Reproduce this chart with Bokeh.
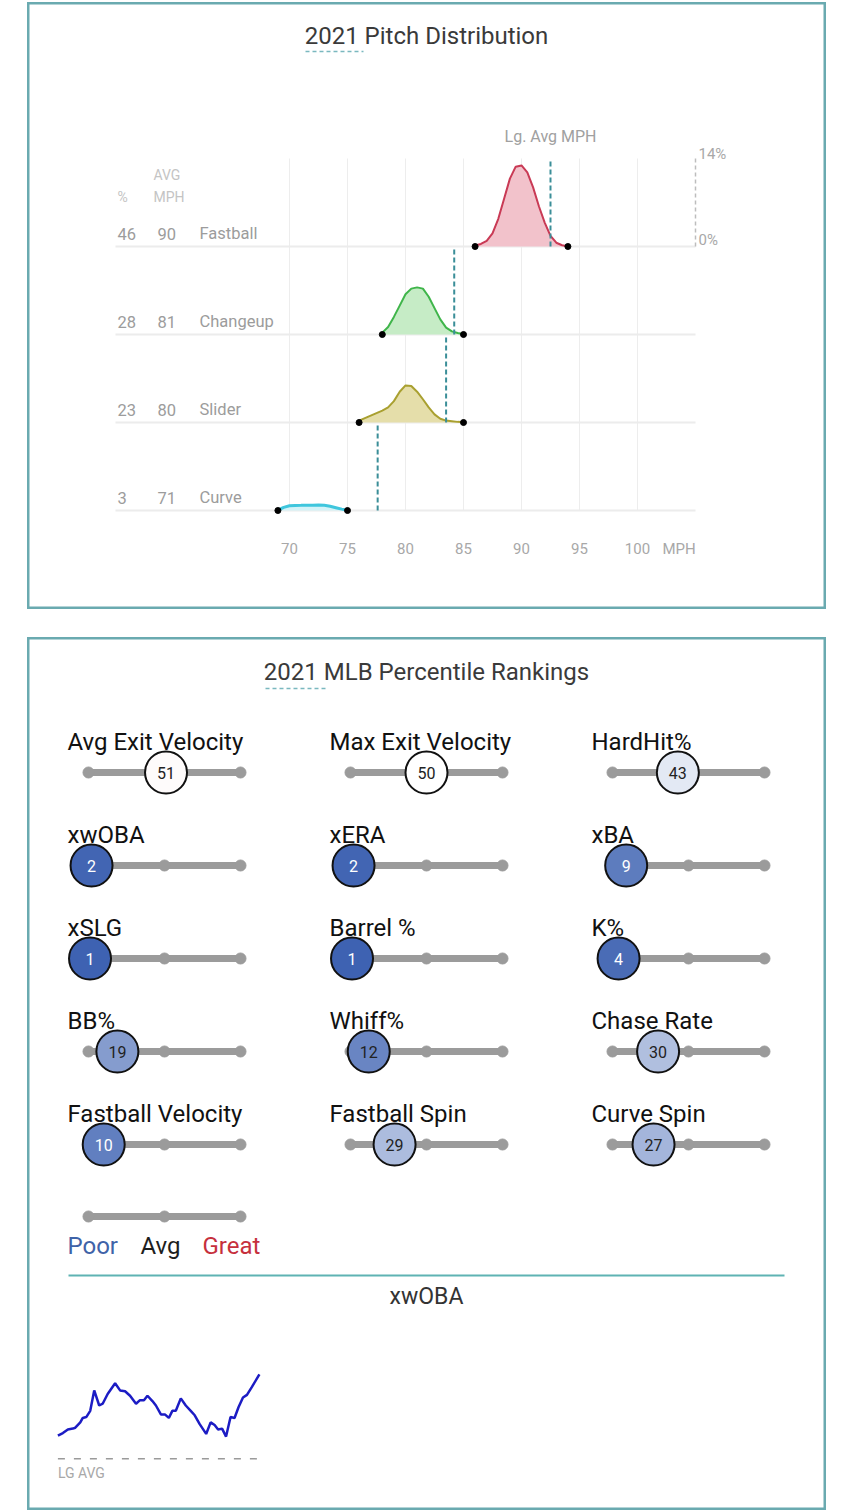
from bokeh.plotting import figure
from bokeh.layouts import column, row
from bokeh.models import Range1d, Spacer
from bokeh.core.properties import value
from bokeh.embed import file_html
from bokeh.resources import INLINE

FONT = value("Roboto")

# ---------------- data: pitch distribution ----------------
pitch_names = ["Fastball", "Changeup", "Slider", "Curve"]
pitch_pct = [46, 28, 23, 3]
pitch_avg_mph = [90, 81, 80, 71]
lg_avg_mph = [92.5, 84.2, 83.5, 77.6]
mph_ticks = [70, 75, 80, 85, 90, 95, 100]
mph_tick_labels = ["70", "75", "80", "85", "90", "95", "100"]

fastball_mph = [86.0, 86.5, 87.0, 87.5, 88.0, 88.5, 89.0, 89.5, 90.0, 90.5, 91.0, 91.5, 92.0, 92.5, 93.0, 93.5, 94.0]
fastball_density = [0.15, 0.4, 0.9, 2.1, 4.4, 7.6, 10.8, 12.7, 12.9, 11.8, 9.4, 6.4, 3.8, 1.7, 0.6, 0.2, 0.05]
changeup_mph = [78.0, 78.5, 79.0, 79.5, 80.0, 80.5, 81.0, 81.5, 82.0, 82.5, 83.0, 83.5, 84.0, 84.5, 85.0]
changeup_density = [0.3, 1.2, 2.8, 4.6, 6.4, 7.3, 7.5, 7.3, 6.0, 4.2, 2.4, 1.1, 0.5, 0.25, 0.05]
slider_mph = [76.0, 76.5, 77.0, 77.5, 78.0, 78.5, 79.0, 79.5, 80.0, 80.5, 81.0, 81.5, 82.0, 82.5, 83.0, 83.5, 84.0, 84.5, 85.0]
slider_density = [0.3, 0.7, 1.1, 1.5, 1.9, 2.4, 3.4, 4.9, 5.9, 5.8, 4.9, 3.7, 2.4, 1.3, 0.6, 0.3, 0.2, 0.1, 0.05]
curve_mph = [69.0, 69.5, 70.0, 70.5, 71.0, 71.5, 72.0, 72.5, 73.0, 73.5, 74.0, 74.5, 75.0]
curve_density = [0.05, 0.5, 0.75, 0.8, 0.82, 0.85, 0.85, 0.86, 0.82, 0.68, 0.45, 0.22, 0.05]

density_mph = [fastball_mph, changeup_mph, slider_mph, curve_mph]
density_pct = [fastball_density, changeup_density, slider_density, curve_density]
line_colors = ["#c93a55", "#3fb54a", "#a9a030", "#3fc6dd"]
fill_colors = ["#f2c2cb", "#c6ecc6", "#e5deaa", "#d3f3f8"]
SCALE_MAX = 14  # percent shown by the right scale bar

# ---------------- data: percentile rankings ----------------
metric_names = ["Avg Exit Velocity", "Max Exit Velocity", "HardHit%",
                "xwOBA", "xERA", "xBA",
                "xSLG", "Barrel %", "K%",
                "BB%", "Whiff%", "Chase Rate",
                "Fastball Velocity", "Fastball Spin", "Curve Spin"]
metric_pct = [51, 50, 43, 2, 2, 9, 1, 1, 4, 19, 12, 30, 10, 29, 27]
legend_labels = ["Poor", "Avg", "Great"]
legend_pct = [0, 50, 100]
legend_colors = ["#3f63a8", "#1e1e1e", "#c6303d"]

# ---------------- data: xwOBA rolling sparkline ----------------
spark_pa = [0, 10, 20, 30, 35, 45, 50, 57, 65, 73, 83, 90, 100, 115, 125, 135, 145, 157, 165, 173,
            180, 190, 197, 207, 215, 223, 230, 237, 247, 257, 267, 275, 285, 298, 307, 315, 322, 330,
            338, 347, 355, 363, 372, 380, 390, 405]
spark_xwoba = [0.341, 0.344, 0.348, 0.349, 0.350, 0.356, 0.361, 0.362, 0.369, 0.392, 0.375, 0.377,
               0.388, 0.400, 0.392, 0.391, 0.386, 0.377, 0.381, 0.381, 0.386, 0.380, 0.375, 0.365,
               0.365, 0.361, 0.369, 0.369, 0.383, 0.375, 0.369, 0.364, 0.354, 0.343, 0.356, 0.353,
               0.348, 0.349, 0.340, 0.362, 0.361, 0.373, 0.384, 0.387, 0.396, 0.410]
lg_avg_xwoba = 0.315

TEAL = "#6aaab0"

# page placement (the page renders with no body margin)
LEFT_PAD = 27
P1_TOP = 2

# =============== Panel 1: pitch distribution ===============
P1_W, P1_H = 799, 607
P1_LEFT = LEFT_PAD
PX_PER_MPH = 11.6
PX_PER_UNIT = 88 / SCALE_MAX


def mx(px):
    return 70 + (px - 289) / PX_PER_MPH


def my(py):
    return (510 - py) / PX_PER_UNIT


def clean(p):
    p.outline_line_color = TEAL
    p.outline_line_width = 4
    p.background_fill_color = "white"
    p.border_fill_color = "white"
    p.grid.visible = False


p1 = figure(width=P1_W, height=P1_H, output_backend="svg", toolbar_location=None,
            x_axis_location=None, y_axis_location=None,
            x_range=Range1d(mx(P1_LEFT), mx(P1_LEFT + P1_W)),
            y_range=Range1d(my(P1_TOP + P1_H), my(P1_TOP)),
            min_border=0)
clean(p1)

n = len(pitch_names)
baselines = [(n - 1 - i) * SCALE_MAX for i in range(n)]

# vertical grid lines
p1.segment(x0=mph_ticks, x1=mph_ticks, y0=[0] * len(mph_ticks), y1=[SCALE_MAX * n] * len(mph_ticks),
           line_color="#ededed", line_width=1)
# row baselines
p1.segment(x0=[55] * n, x1=[105] * n, y0=baselines, y1=baselines, line_color="#ececec", line_width=2)

for i in range(n):
    b = baselines[i]
    top = [b + d for d in density_pct[i]]
    p1.varea(x=density_mph[i], y1=[b] * len(top), y2=top, fill_color=fill_colors[i], fill_alpha=1.0)
    p1.line(x=density_mph[i], y=top, line_color=line_colors[i], line_width=3 if i == 3 else 2)
    p1.scatter(x=[density_mph[i][0], density_mph[i][-1]], y=[b, b], size=6, marker="circle",
               fill_color="black", line_color="black")

# league average dashed lines
p1.segment(x0=lg_avg_mph, x1=lg_avg_mph, y0=baselines, y1=[b + SCALE_MAX for b in baselines],
           line_color="#3a8e98", line_width=2, line_dash="5 3")

# right scale
p1.segment(x0=[105], x1=[105], y0=[baselines[0]], y1=[baselines[0] + SCALE_MAX],
           line_color="#bdbdbd", line_width=1.5, line_dash="4 3")
p1.text(x=[mx(698), mx(698)], y=[my(153), my(239)], text=["%d%%" % SCALE_MAX, "0%"],
        text_font=FONT, text_font_size="15px", text_color="#a8a8a8",
        text_align="left", text_baseline="middle")

# row labels
lab_dy = 13 / PX_PER_UNIT
ly = [b + lab_dy for b in baselines]
p1.text(x=[mx(117)] * n, y=ly, text=[str(v) for v in pitch_pct], text_font=FONT,
        text_font_size="16.5px", text_color="#9c9c9c", text_align="left", text_baseline="middle")
p1.text(x=[mx(157)] * n, y=ly, text=[str(v) for v in pitch_avg_mph], text_font=FONT,
        text_font_size="16.5px", text_color="#9c9c9c", text_align="left", text_baseline="middle")
p1.text(x=[mx(199)] * n, y=ly, text=pitch_names, text_font=FONT,
        text_font_size="16.5px", text_color="#9c9c9c", text_align="left", text_baseline="middle")
# headers
p1.text(x=[mx(117), mx(153), mx(153)], y=[my(196), my(174), my(196)], text=["%", "AVG", "MPH"],
        text_font=FONT, text_font_size="14px", text_color="#c4c4c4",
        text_align="left", text_baseline="middle")

# tick labels
p1.text(x=mph_ticks, y=[my(548)] * len(mph_ticks), text=mph_tick_labels, text_font=FONT,
        text_font_size="15px", text_color="#a8a8a8", text_align="center", text_baseline="middle")
p1.text(x=[mx(662)], y=[my(548)], text=["MPH"], text_font=FONT,
        text_font_size="15px", text_color="#a8a8a8", text_align="left", text_baseline="middle")

# Lg avg label
p1.text(x=[lg_avg_mph[0]], y=[my(136)], text=["Lg. Avg MPH"], text_font=FONT,
        text_font_size="16px", text_color="#a0a0a0", text_align="center", text_baseline="middle")

# title
p1.text(x=[mx(426)], y=[my(35)], text=["2021 Pitch Distribution"], text_font=FONT,
        text_font_size="24px", text_color="#3a3a3a", text_align="center", text_baseline="middle")
p1.segment(x0=[mx(305)], x1=[mx(363)], y0=[my(51)], y1=[my(51)], line_color="#7ab8bf",
           line_width=1.5, line_dash="4 3")

# =============== Panel 2: percentile rankings ===============
P2_TOP = 637
P2_W, P2_H = 799, 1510 - P2_TOP
P2_LEFT = LEFT_PAD


def cx(px):
    return px - P2_LEFT


def cy(py):
    return py - P2_TOP


p2 = figure(width=P2_W, height=P2_H, output_backend="svg", toolbar_location=None,
            x_axis_location=None, y_axis_location=None,
            x_range=Range1d(0, P2_W), y_range=Range1d(P2_H, 0), min_border=0)
clean(p2)

TRACK_LEFT = [88, 350, 612]
TRACK_W = 152.0
for j, L in enumerate(TRACK_LEFT):
    p2.extra_x_ranges["c%d" % j] = Range1d(-cx(L) / TRACK_W * 100, (P2_W - cx(L)) / TRACK_W * 100)
ROW0, ROW_DY = 772, 93.0
p2.extra_y_ranges["rows"] = Range1d((P2_TOP + P2_H - ROW0) / ROW_DY, (P2_TOP - ROW0) / ROW_DY)

SPX0, SPX_PER = 57.4, 405 / (258.9 - 57.4)
SPY0, SPY_PER = 1458.3, (0.4099 - 0.315) / 84.3
p2.extra_x_ranges["sx"] = Range1d(-(cx(SPX0)) * SPX_PER, (P2_W - cx(SPX0)) * SPX_PER)
p2.extra_y_ranges["sy"] = Range1d(lg_avg_xwoba - (P2_TOP + P2_H - SPY0) * SPY_PER,
                                  lg_avg_xwoba + (SPY0 - P2_TOP) * SPY_PER)


def pct_color(p):
    blue = (58, 95, 176)
    red = (210, 45, 65)
    white = (255, 255, 255)
    if p <= 50:
        t = p / 50.0
        c = [blue[k] + (white[k] - blue[k]) * t for k in range(3)]
    else:
        t = (p - 50) / 50.0
        c = [white[k] + (red[k] - white[k]) * t for k in range(3)]
    return "#%02x%02x%02x" % tuple(int(round(v)) for v in c)


# title
p2.text(x=[cx(426)], y=[cy(671)], text=["2021 MLB Percentile Rankings"], text_font=FONT,
        text_font_size="24px", text_color="#3a3a3a", text_align="center", text_baseline="middle")
p2.segment(x0=[cx(265)], x1=[cx(325)], y0=[cy(688)], y1=[cy(688)], line_color="#7ab8bf",
           line_width=1.5, line_dash="4 3")

LABEL_X = -21 / TRACK_W * 100
for j in range(3):
    idx = [i for i in range(len(metric_names)) if i % 3 == j]
    rows = [i // 3 for i in idx]
    pcts = [metric_pct[i] for i in idx]
    names = [metric_names[i] for i in idx]
    kw = dict(x_range_name="c%d" % j, y_range_name="rows")
    p2.text(x=[LABEL_X] * len(idx), y=[r - 31 / ROW_DY for r in rows], text=names, text_font=FONT,
            text_font_size="24px", text_color="#111111", text_align="left", text_baseline="middle", **kw)
    p2.segment(x0=[0] * len(rows), x1=[100] * len(rows), y0=rows, y1=rows, line_color="#9b9b9b",
               line_width=7, line_cap="round", **kw)
    p2.scatter(x=[0, 50, 100] * len(rows), y=[r for r in rows for _ in range(3)], size=11,
               marker="circle", fill_color="#9b9b9b", line_color="#9b9b9b", **kw)
    p2.scatter(x=pcts, y=rows, size=42, marker="circle", fill_color=[pct_color(v) for v in pcts],
               line_color="#111111", line_width=2, **kw)
    p2.text(x=pcts, y=rows, text=[str(v) for v in pcts], text_font=FONT, text_font_size="16px",
            text_color=["white" if (v <= 10 or v >= 90) else "#222222" for v in pcts],
            text_align="center", text_baseline="middle", **kw)

# legend scale
LEG_Y = (1216 - ROW0) / ROW_DY
LEG_TY = (1245 - ROW0) / ROW_DY
kw0 = dict(x_range_name="c0", y_range_name="rows")
p2.segment(x0=[0], x1=[100], y0=[LEG_Y], y1=[LEG_Y], line_color="#9b9b9b", line_width=7,
           line_cap="round", **kw0)
p2.scatter(x=legend_pct, y=[LEG_Y] * 3, size=11, marker="circle", fill_color="#9b9b9b",
           line_color="#9b9b9b", **kw0)
p2.text(x=[LABEL_X, (140 - 88) / TRACK_W * 100, (202 - 88) / TRACK_W * 100], y=[LEG_TY] * 3,
        text=legend_labels, text_font=FONT, text_font_size="24px", text_color=legend_colors,
        text_align="left", text_baseline="middle", **kw0)

# separator
p2.segment(x0=[cx(68)], x1=[cx(784)], y0=[cy(1275)], y1=[cy(1275)], line_color="#5fb3b3", line_width=2)
p2.text(x=[cx(426)], y=[cy(1296)], text=["xwOBA"], text_font=FONT, text_font_size="23px",
        text_color="#333333", text_align="center", text_baseline="middle")

# sparkline
kws = dict(x_range_name="sx", y_range_name="sy")
p2.segment(x0=[0], x1=[412], y0=[lg_avg_xwoba], y1=[lg_avg_xwoba], line_color="#9a9a9a",
           line_width=1.5, line_dash="7 9", **kws)
p2.line(x=spark_pa, y=spark_xwoba, line_color="#1c1cc4", line_width=2.5, **kws)
p2.text(x=[0], y=[lg_avg_xwoba - 14 * SPY_PER], text=["LG AVG"], text_font=FONT,
        text_font_size="14px", text_color="#a8a8a8", text_align="left", text_baseline="middle", **kws)

layout = column(Spacer(width=10, height=P1_TOP),
                row(Spacer(width=LEFT_PAD, height=P1_H), p1),
                Spacer(width=10, height=P2_TOP - P1_TOP - P1_H),
                row(Spacer(width=LEFT_PAD, height=P2_H), p2))

open("out.html", "w").write(file_html(layout, INLINE))
